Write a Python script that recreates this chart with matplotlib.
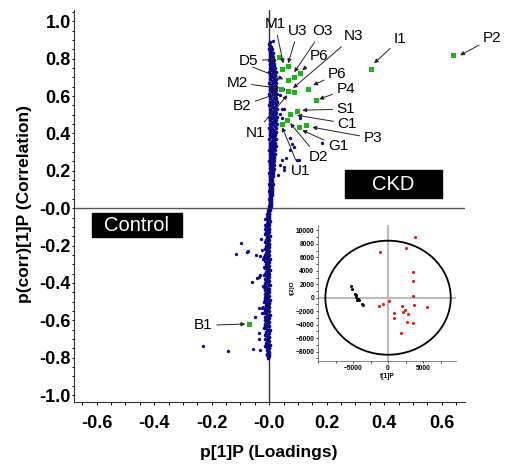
import numpy as np
import matplotlib
matplotlib.use("Agg")
import matplotlib.pyplot as plt
from matplotlib.patches import Ellipse, Rectangle
from matplotlib.ticker import MultipleLocator, FuncFormatter

plt.rcParams['font.family'] = ['Liberation Sans', 'DejaVu Sans']

# dense band of variables close to zero loading: (p(corr), p values...)
core_up = [
    (0.01, 0.001, 0.003, 0.005), (0.03, 0.002, 0.004, 0.006),
    (0.05, 0.001, 0.005, 0.007), (0.07, 0.002, 0.004, 0.008),
    (0.09, 0.001, 0.006, 0.009), (0.11, 0.002, 0.005, 0.010),
    (0.13, 0.001, 0.007, 0.012), (0.15, 0.003, 0.006, 0.011),
    (0.17, 0.002, 0.008, 0.014), (0.19, 0.001, 0.006, 0.013),
    (0.21, 0.003, 0.009, 0.016), (0.23, 0.002, 0.007, 0.015),
    (0.25, 0.001, 0.010, 0.018), (0.27, 0.003, 0.008, 0.017),
    (0.29, 0.002, 0.011, 0.020), (0.31, 0.001, 0.009, 0.019),
    (0.33, 0.003, 0.012, 0.022), (0.35, 0.002, 0.010, 0.021),
    (0.37, 0.001, 0.013, 0.024), (0.39, 0.003, 0.011, 0.020),
    (0.41, 0.002, 0.014, 0.025), (0.43, 0.001, 0.009, 0.022),
    (0.45, 0.003, 0.012, 0.026), (0.47, 0.002, 0.015, 0.023),
    (0.49, 0.001, 0.010, 0.027), (0.51, 0.003, 0.013, 0.024),
    (0.53, 0.002, 0.016, 0.028), (0.55, 0.001, 0.011, 0.025),
    (0.57, 0.003, 0.014, 0.027), (0.59, 0.002, 0.017, 0.024),
    (0.61, 0.001, 0.012, 0.026), (0.63, 0.003, 0.015, 0.023),
    (0.65, 0.002, 0.010, 0.025), (0.67, 0.001, 0.013, 0.022),
    (0.69, 0.003, 0.016, 0.024), (0.71, 0.002, 0.011, 0.021),
    (0.73, 0.001, 0.014, 0.023), (0.75, 0.003, 0.009, 0.020),
    (0.77, 0.002, 0.012, 0.018), (0.79, 0.001, 0.008, 0.016),
    (0.81, 0.003, 0.010, 0.014), (0.83, 0.002, 0.007, 0.012),
    (0.85, 0.001, 0.005, 0.009), (0.87, 0.002, 0.004),
    (0.89, 0.003),
    (0.00, 0.002, 0.004), (0.02, 0.003, 0.006), (0.04, 0.002, 0.007),
    (0.06, 0.003, 0.006), (0.08, 0.004, 0.008), (0.10, 0.003, 0.008),
    (0.12, 0.004, 0.010), (0.14, 0.005, 0.009), (0.16, 0.004, 0.011),
    (0.18, 0.005, 0.010), (0.20, 0.006, 0.012), (0.22, 0.005, 0.012),
    (0.24, 0.006, 0.014), (0.26, 0.005, 0.013), (0.28, 0.007, 0.015),
    (0.30, 0.006, 0.014), (0.32, 0.007, 0.017), (0.34, 0.006, 0.016),
    (0.36, 0.008, 0.018), (0.38, 0.007, 0.016), (0.40, 0.008, 0.019),
    (0.42, 0.006, 0.017), (0.44, 0.007, 0.019), (0.46, 0.008, 0.020),
    (0.48, 0.006, 0.018), (0.50, 0.008, 0.021), (0.52, 0.007, 0.019),
    (0.54, 0.008, 0.021), (0.56, 0.006, 0.020), (0.58, 0.008, 0.022),
    (0.60, 0.007, 0.019), (0.62, 0.008, 0.020), (0.64, 0.006, 0.018),
    (0.66, 0.007, 0.019), (0.68, 0.008, 0.020), (0.70, 0.006, 0.017),
    (0.72, 0.007, 0.018), (0.74, 0.006, 0.016), (0.76, 0.005, 0.015),
    (0.78, 0.005, 0.012), (0.80, 0.005, 0.011), (0.82, 0.004, 0.009),
    (0.84, 0.003, 0.007), (0.86, 0.002, 0.006), (0.88, 0.001),
]
core_down = [
    (-0.01, -0.003, 0.000, 0.002), (-0.03, -0.006, -0.002, 0.001),
    (-0.05, -0.008, -0.004, 0.000), (-0.07, -0.005, -0.001, 0.002),
    (-0.09, -0.009, -0.003, 0.001), (-0.11, -0.007, -0.002, 0.000),
    (-0.13, -0.010, -0.005, 0.001), (-0.15, -0.006, -0.001, 0.002),
    (-0.17, -0.011, -0.004, 0.000), (-0.19, -0.008, -0.002, 0.001),
    (-0.21, -0.012, -0.006, -0.001), (-0.23, -0.009, -0.003, 0.001),
    (-0.25, -0.013, -0.005, 0.000), (-0.27, -0.010, -0.002, 0.002),
    (-0.29, -0.007, -0.004, 0.001), (-0.31, -0.012, -0.006, 0.000),
    (-0.33, -0.009, -0.001, 0.002), (-0.35, -0.013, -0.005, 0.000),
    (-0.37, -0.008, -0.003, 0.001), (-0.39, -0.011, -0.006, 0.000),
    (-0.41, -0.014, -0.002, 0.002), (-0.43, -0.009, -0.004, 0.000),
    (-0.45, -0.012, -0.007, 0.001), (-0.47, -0.010, -0.003, 0.000),
    (-0.49, -0.013, -0.005, 0.002), (-0.51, -0.008, -0.002, 0.000),
    (-0.53, -0.011, -0.006, 0.001), (-0.55, -0.014, -0.004, 0.000),
    (-0.57, -0.009, -0.002, 0.002), (-0.59, -0.012, -0.005, 0.000),
    (-0.61, -0.010, -0.003, 0.001), (-0.63, -0.013, -0.006, 0.000),
    (-0.65, -0.008, -0.002, 0.002), (-0.67, -0.011, -0.004, 0.000),
    (-0.69, -0.009, -0.001, 0.001), (-0.71, -0.007, -0.003, 0.000),
    (-0.73, -0.010, -0.005, 0.002), (-0.75, -0.006, -0.002, 0.000),
    (-0.77, -0.004, 0.000), (-0.79, -0.003, 0.001),
    (-0.02, -0.004, -0.001), (-0.04, -0.003, 0.001), (-0.06, -0.007, -0.003),
    (-0.08, -0.006, -0.002), (-0.10, -0.011, -0.005), (-0.12, -0.009, -0.004),
    (-0.14, -0.013, -0.008), (-0.16, -0.009, -0.003), (-0.18, -0.014, -0.007),
    (-0.20, -0.010, -0.004), (-0.22, -0.016, -0.009), (-0.24, -0.012, -0.007),
    (-0.26, -0.017, -0.009), (-0.28, -0.013, -0.004), (-0.30, -0.011, -0.006),
    (-0.32, -0.016, -0.009), (-0.34, -0.012, -0.004), (-0.36, -0.017, -0.010),
    (-0.38, -0.013, -0.006), (-0.40, -0.015, -0.008), (-0.42, -0.018, -0.011),
    (-0.44, -0.013, -0.007), (-0.46, -0.016, -0.009), (-0.48, -0.014, -0.007),
    (-0.50, -0.017, -0.009), (-0.52, -0.012, -0.005), (-0.54, -0.015, -0.008),
    (-0.56, -0.018, -0.010), (-0.58, -0.013, -0.007), (-0.60, -0.016, -0.009),
    (-0.62, -0.014, -0.007), (-0.64, -0.017, -0.010), (-0.66, -0.012, -0.005),
    (-0.68, -0.015, -0.007), (-0.70, -0.013, -0.006), (-0.72, -0.011, -0.005),
    (-0.74, -0.013, -0.008), (-0.76, -0.009, -0.004), (-0.78, -0.006, -0.002),
    (-0.80, -0.004),
]

# scattered variables away from the band
spread_p = [0.073, 0.079, 0.071, 0.105, 0.058, 0.053, 0.050, 0.044, 0.038, 0.032,
            0.183, 0.085, 0.038, 0.050, 0.044, 0.108, 0.012, 0.008, 0.047, 0.036,
            0.044, 0.096,
            -0.231, -0.145, -0.057, -0.031, -0.035, -0.036, -0.050, -0.036, -0.025,
            -0.006, -0.097, -0.117, -0.078, -0.073, -0.045, -0.031, -0.027, -0.016,
            -0.025, -0.020, -0.019, -0.031, -0.036, -0.041, -0.061, -0.022, -0.016,
            -0.014, -0.020, -0.025, -0.016, -0.008]
spread_pcorr = [0.373, 0.342, 0.310, 0.255, 0.266, 0.221, 0.203, 0.257, 0.230, 0.180,
                0.346, 0.328, 0.506, 0.533, 0.480, 0.480, 0.893, 0.827, 0.640, 0.604,
                0.533, 0.257,
                -0.736, -0.765, -0.754, -0.758, -0.670, -0.700, -0.584, -0.533, -0.533,
                -0.786, -0.185, -0.244, -0.234, -0.230, -0.253, -0.257, -0.164, -0.059,
                -0.225, -0.274, -0.316, -0.355, -0.367, -0.376, -0.397, -0.415, -0.091,
                -0.109, -0.528, -0.563, -0.474, -0.046]

# highlighted metabolites
hit_p = [0.641, 0.354, 0.035, 0.046, 0.065, 0.085, 0.108, 0.064, 0.135, 0.042,
         0.067, 0.087, 0.163, 0.095, 0.073, 0.062, 0.044, 0.102, 0.129, -0.072]
hit_pcorr = [0.818, 0.747, 0.806, 0.743, 0.761, 0.702, 0.724, 0.684, 0.636, 0.635,
             0.627, 0.619, 0.578, 0.519, 0.503, 0.471, 0.448, 0.435, 0.446, -0.620]

# label, text position, arrow tip
labels = [
    ("P2", (0.776, 0.910), (0.664, 0.818)),
    ("I1", (0.456, 0.905), (0.365, 0.775)),
    ("N3", (0.294, 0.920), (0.083, 0.642)),
    ("O3", (0.184, 0.947), (0.087, 0.727)),
    ("U3", (0.100, 0.950), (0.066, 0.775)),
    ("M1", (0.020, 0.985), (0.049, 0.775)),
    ("P6", (0.172, 0.812), (0.115, 0.738)),
    ("P6", (0.237, 0.718), (0.153, 0.658)),
    ("P4", (0.267, 0.636), (0.174, 0.583)),
    ("S1", (0.267, 0.530), (0.115, 0.524)),
    ("C1", (0.272, 0.452), (0.097, 0.497)),
    ("P3", (0.361, 0.374), (0.150, 0.433)),
    ("G1", (0.240, 0.330), (0.115, 0.417)),
    ("D2", (0.172, 0.272), (0.073, 0.455)),
    ("U1", (0.108, 0.199), (0.045, 0.433)),
    ("N1", (-0.049, 0.404), (0.063, 0.604)),
    ("B2", (-0.095, 0.547), (0.031, 0.615)),
    ("M2", (-0.112, 0.671), (0.035, 0.642)),
    ("D5", (-0.073, 0.787), (0.021, 0.797)),
    ("B1", (-0.229, -0.627), (-0.083, -0.620)),
]

# score plot of the model (inset)
ckd_t1 = [3850, -1200, 2500, 3600, 3560, 3600, 3750, 5530, 96, -720,
          -1350, 1970, 2400, 2070, 2890, 870, 870, 2740, 3600, 1880]
ckd_t2 = [9015, 6800, 7440, 3840, 2460, 200, -1080, -1380, -540, -890,
          -1180, -1180, -1770, -2170, -2360, -2315, -3050, -3550, -3740, -5270]
ctrl_t1 = [-5290, -5100, -4670, -4520, -4230, -4420, -4140, -3700, -3510, -4570]
ctrl_t2 = [1720, 1280, 490, 150, -200, -390, -340, -985, -1080, 390]
hotelling = (8950, 8470)

x_ticks = [-0.6, -0.4, -0.2, 0.0, 0.2, 0.4, 0.6]
y_ticks = [-1.0, -0.8, -0.6, -0.4, -0.2, 0.0, 0.2, 0.4, 0.6, 0.8, 1.0]


def zero_fmt(v, pos):
    return "-0.0" if abs(v) < 1e-9 else "%.1f" % v


fig = plt.figure(figsize=(5.12, 4.68), dpi=100)
ax = fig.add_axes([0.1445, 0.141, 0.7637, 0.8376])

ax.axhline(0, color="#555555", lw=1.0, zorder=1)
ax.axvline(0, color="#333333", lw=1.0, zorder=1)

navy = "#0a0a8c"
for row in core_up + core_down:
    ax.plot(row[1:], [row[0]] * (len(row) - 1), "o", color=navy, ms=2.6, mew=0, zorder=2)
ax.plot(spread_p, spread_pcorr, "o", color=navy, ms=2.4, mew=0, zorder=2)
ax.plot(hit_p, hit_pcorr, "s", color="#22b022", ms=3.6, mew=0, zorder=3)

arrow = dict(arrowstyle="-|>", color="#222222", lw=0.7, mutation_scale=6,
             shrinkA=1, shrinkB=0)
for name, txt, tip in labels:
    ax.annotate(name, xy=tip, xytext=txt, ha="center", va="center",
                fontsize=11, arrowprops=arrow, zorder=4)
# D5 points at two features
ax.annotate("", xy=(0.049, 0.690), xytext=(-0.061, 0.757), arrowprops=arrow)

ax.add_patch(Rectangle((0.264, 0.052), 0.337, 0.151, color="black", zorder=5))
ax.text(0.4325, 0.1275, "CKD", color="white", fontsize=14.5, ha="center",
        va="center", zorder=6)
ax.add_patch(Rectangle((-0.617, -0.153), 0.313, 0.125, color="black", zorder=5))
ax.text(-0.4605, -0.0905, "Control", color="white", fontsize=14.5, ha="center",
        va="center", zorder=6)

ax.set_xlim(-0.679, 0.681)
ax.set_ylim(-1.037, 1.06)
ax.set_xticks(x_ticks)
ax.set_yticks(y_ticks)
ax.xaxis.set_major_formatter(FuncFormatter(zero_fmt))
ax.yaxis.set_major_formatter(FuncFormatter(zero_fmt))
ax.xaxis.set_minor_locator(MultipleLocator(0.05))
ax.yaxis.set_minor_locator(MultipleLocator(0.05))
ax.tick_params(axis="x", which="both", direction="out", length=2.5, width=0.7, pad=7)
ax.tick_params(axis="y", which="both", direction="out", length=1.8, width=0.7, pad=0.5)
for lab in ax.get_xticklabels() + ax.get_yticklabels():
    lab.set_fontweight("bold")
    lab.set_fontsize(13)
for s in ("top", "right"):
    ax.spines[s].set_visible(False)
for s in ("left", "bottom"):
    ax.spines[s].set_linewidth(0.8)
    ax.spines[s].set_color("#333333")

fig.text(269 / 512, 1 - 453 / 468, "p[1]P (Loadings)", ha="center", va="center",
         fontsize=12.5, fontweight="bold")
fig.text(25 / 512, 1 - 204 / 468, "p(corr)[1]P (Correlation)", ha="center",
         va="center", rotation=90, fontsize=12.5, fontweight="bold")

# inset score plot
ins = fig.add_axes([318 / 512, 1 - 361 / 468, 138 / 512, 136 / 468])
ins.patch.set_alpha(0)
ins.axhline(0, color="#bbbbbb", lw=1.5, zorder=1)
ins.axvline(0, color="#bbbbbb", lw=1.5, zorder=1)
ins.add_patch(Ellipse((0, 0), 2 * hotelling[0], 2 * hotelling[1], fill=False,
                      ec="black", lw=1.3, zorder=2))
ins.plot(ckd_t1, ckd_t2, "o", color="#ee1111", ms=2.2, mew=0, zorder=3)
ins.plot(ctrl_t1, ctrl_t2, "o", color="black", ms=2.2, mew=0, zorder=3)
ins.set_xlim(-10000, 9700)
ins.set_ylim(-9400, 10800)
ins.set_xticks([-5000, 0, 5000])
ins.set_yticks(np.arange(-8000, 10001, 2000))
ins.xaxis.set_minor_locator(MultipleLocator(2500))
ins.yaxis.set_minor_locator(MultipleLocator(1000))
ins.tick_params(which="both", direction="out", length=1.5, width=0.5, pad=1.2,
                labelsize=4.8)
for lab in ins.get_xticklabels() + ins.get_yticklabels():
    lab.set_fontweight("bold")
for s in ("top", "right"):
    ins.spines[s].set_visible(False)
for s in ("left", "bottom"):
    ins.spines[s].set_linewidth(0.5)
    ins.spines[s].set_color("#555555")
fig.text(387 / 512, 1 - 377 / 468, "t[1]P", ha="center", va="center",
         fontsize=4.8, fontweight="bold")
fig.text(292 / 512, 1 - 288 / 468, "t[2]O", ha="center", va="center",
         rotation=90, fontsize=4.5, fontweight="bold")

fig.savefig("out.png", dpi=100)
